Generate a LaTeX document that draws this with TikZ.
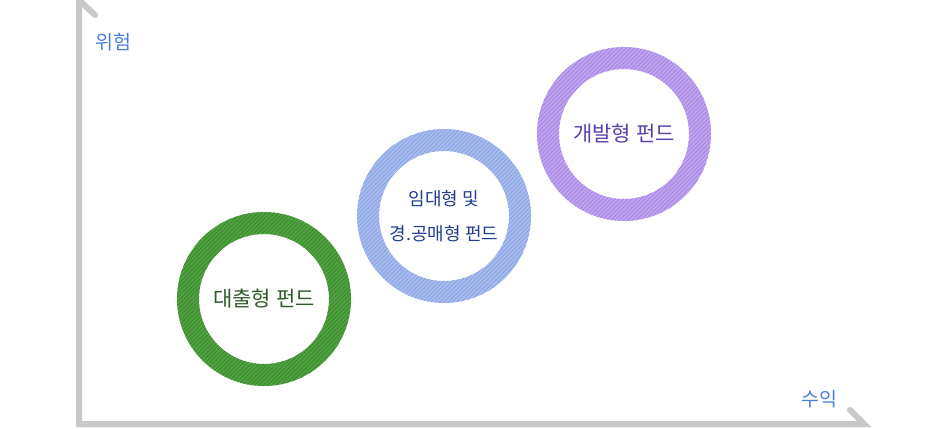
\documentclass[tikz,border=0pt]{standalone}
\usepackage{fontspec}
\setmainfont{Noto Sans CJK KR}
\usetikzlibrary{patterns.meta}
\definecolor{axisgray}{HTML}{C8C8C8}
\definecolor{axislbl}{HTML}{4A7FE0}
\definecolor{gbase}{HTML}{4FA23F}
\definecolor{gline}{HTML}{3A8530}
\definecolor{gtext}{HTML}{2F5A2A}
\definecolor{bbase}{HTML}{A6BBEE}
\definecolor{bline}{HTML}{869FDD}
\definecolor{btext}{HTML}{1F3D8C}
\definecolor{pbase}{HTML}{BEA3EE}
\definecolor{pline}{HTML}{A283DF}
\definecolor{ptext}{HTML}{5A40A8}
\tikzset{
  axisline/.style={draw=axisgray, line width=6pt, line cap=round, line join=miter},
  axislabel/.style={text=axislbl, font=\fontsize{19.5}{22}\selectfont, inner sep=0pt},
  ringlabel/.style={font=\fontsize{21}{24}\selectfont, inner sep=0pt, align=center},
}
\newcommand{\hatchring}[3]{%
  \fill[#2, even odd rule] #1 circle[radius=87] #1 circle[radius=65];
  \path[even odd rule, pattern={Lines[angle=45,distance=3pt,line width=0.7pt]}, pattern color=#3]
     #1 circle[radius=87] #1 circle[radius=65];
}
\begin{document}
\begin{tikzpicture}[x=1pt,y=-1pt]
\useasboundingbox (0,0) rectangle (944,428);
% axes
\coordinate (ytip) at (95,15);
\coordinate (ytop) at (79,0);
\coordinate (orig) at (79,424);
\coordinate (xend) at (864,424);
\coordinate (xtip) at (850,410);
\draw[axisline] (ytip) -- (ytop) -- (orig) -- (xend) -- (xtip);
\node[axislabel] (risk) at (113,42) {위험};
\node[axislabel] (ret) at (819,399) {수익};
% rings
\hatchring{(264,299)}{gbase}{gline}
\hatchring{(444,216)}{bbase}{bline}
\hatchring{(624,134)}{pbase}{pline}
\node[ringlabel, text=gtext] (loan) at (264,299) {대출형 펀드};
\node[ringlabel, text=btext, font=\fontsize{18}{35}\selectfont] (lease) at (444,216) {임대형 및\\경.공매형 펀드};
\node[ringlabel, text=ptext] (dev) at (624,134) {개발형 펀드};
\end{tikzpicture}
\end{document}
